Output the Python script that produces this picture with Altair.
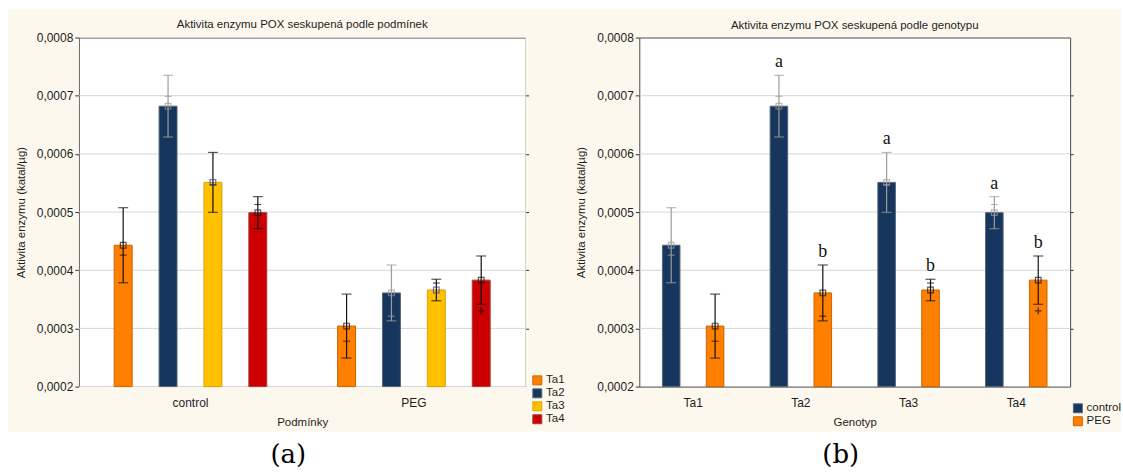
import altair as alt
import pandas as pd

# ---- data -------------------------------------------------------------
genotypes = ["Ta1", "Ta2", "Ta3", "Ta4"]
conditions = ["control", "PEG"]

mean_control = [0.000443, 0.000682, 0.000551, 0.000499]
mean_peg = [0.000304, 0.000361, 0.000366, 0.000383]
se_control = [0.0000645, 0.000053, 0.0000515, 0.0000275]
se_peg = [0.000055, 0.000048, 0.0000185, 0.0000415]
inner_control = [0.000426, 0.000699, 0.000547, 0.000513]
inner_peg = [0.000278, 0.000321, 0.000378, None]
letters_control = ["", "a", "a", "a"]
letters_peg = ["", "b", "b", "b"]
extra_condition = ["PEG"]
extra_genotype = ["Ta4"]
extra_value = [0.000330]

y_ticks = [0.0002, 0.0003, 0.0004, 0.0005, 0.0006, 0.0007, 0.0008]

# ---- styling ----------------------------------------------------------
FONT = "Liberation Sans"
SERIF = "Liberation Serif"
CAPTION_FONT = "DejaVu Serif"
CREAM = "#fdf8ed"
TEXT = "#1e1e1e"
genotype_fill = ["#ff8000", "#17365d", "#ffc000", "#cc0000"]
genotype_edge = ["#c96300", "#56657a", "#d9a400", "#a83a3a"]
condition_fill = ["#17365d", "#ff8000"]
condition_edge = ["#56657a", "#c96300"]

rows = []
for cond, means, ses, inner, letters in [
    ("control", mean_control, se_control, inner_control, letters_control),
    ("PEG", mean_peg, se_peg, inner_peg, letters_peg),
]:
    for g, m, e, i, l in zip(genotypes, means, ses, inner, letters):
        rows.append(dict(condition=cond, genotype=g, mean=m, lo=m - e, hi=m + e,
                         inner=i, letter=l))
df = pd.DataFrame(rows)
extra_df = pd.DataFrame({"condition": extra_condition, "genotype": extra_genotype,
                         "value": extra_value})
grid_df = pd.DataFrame({"tick": y_ticks[1:-1]})

Y_MIN, Y_MAX = y_ticks[0], y_ticks[-1]
PLOT_H = 350
y_scale = alt.Scale(domain=[Y_MIN, Y_MAX], nice=False, zero=False)
y_axis = alt.Axis(
    title="Aktivita enzymu (katal/µg)", values=y_ticks,
    labelExpr="replace(format(datum.value, '.4f'), '.', ',')",
    grid=False, domain=False, tickColor="#333", tickSize=4, zindex=1,
    labelFontSize=12, labelPadding=2, labelColor=TEXT, labelFont=FONT,
    titleFontSize=11.5, titleFontWeight="normal", titleColor=TEXT, titleFont=FONT,
    titlePadding=10,
)
# tick marks only, on the right-hand frame
y_axis_right = alt.Axis(orient="right", values=y_ticks[1:-1], labels=False, title=None,
                        grid=False, domain=False, tickColor="#333", tickSize=3, zindex=1)


def panel(x_field, x_domain, off_field, fills, edges, navy_test, marker_stroke,
          title, title_dy, x_title, width, outer_pad, caption, legend_xy, show_letters,
          backdrop=False):
    off_domain = genotypes if off_field == "genotype" else conditions
    x = alt.X(f"{x_field}:N", scale=alt.Scale(domain=x_domain, paddingInner=0, paddingOuter=0),
              axis=alt.Axis(title=x_title, labelAngle=0, ticks=False, domain=False, zindex=1,
                            labelPadding=11, labelFontSize=12, labelColor=TEXT, labelFont=FONT,
                            titleFontSize=11.5, titleFontWeight="normal", titleColor=TEXT,
                            titleFont=FONT, titlePadding=8))
    xo = alt.XOffset(f"{off_field}:N",
                     scale=alt.Scale(domain=off_domain, paddingInner=0.6, paddingOuter=outer_pad))
    base = alt.Chart(df)
    err_color = alt.condition(navy_test, alt.value("#9c9c9c"), alt.value("#111111"))

    grid = alt.Chart(grid_df).mark_rule(color="#d6d6d6", strokeWidth=1).encode(
        y=alt.Y("tick:Q", scale=y_scale))
    bars = base.mark_bar(strokeWidth=1).encode(
        x=x, xOffset=xo,
        y=alt.Y("mean:Q", scale=y_scale, axis=y_axis),
        y2=alt.datum(Y_MIN),
        fill=alt.Fill(f"{off_field}:N",
                      scale=alt.Scale(domain=off_domain, range=fills),
                      legend=alt.Legend(title=None, orient="none", legendX=legend_xy[0],
                                        legendY=legend_xy[1], symbolType="square",
                                        symbolSize=81, symbolStrokeColor="#555",
                                        symbolStrokeWidth=1, labelFontSize=11.5, labelFont=FONT,
                                        labelColor=TEXT, rowPadding=-1, padding=0,
                                        labelOffset=3, zindex=1)),
        stroke=alt.Stroke(f"{off_field}:N",
                          scale=alt.Scale(domain=off_domain, range=edges),
                          legend=None),
    )
    whisk = base.mark_rule(strokeWidth=1.2).encode(
        x=x, xOffset=xo, y="lo:Q", y2="hi:Q", color=err_color)
    cap_hi = base.mark_tick(size=10, thickness=1.2).encode(
        x=x, xOffset=xo, y="hi:Q", color=err_color)
    cap_lo = base.mark_tick(size=10, thickness=1.2).encode(
        x=x, xOffset=xo, y="lo:Q", color=err_color)
    inner = base.transform_filter("isValid(datum.inner)").mark_tick(size=7, thickness=1.2).encode(
        x=x, xOffset=xo, y="inner:Q", color=err_color)
    markers = base.mark_point(shape="square", size=32, filled=False, strokeWidth=1.2).encode(
        x=x, xOffset=xo, y="mean:Q", stroke=marker_stroke)
    plus = alt.Chart(extra_df).mark_point(
        shape="M-1,0L1,0M0,-1L0,1", size=45, filled=False, strokeWidth=1.3, color="#111"
    ).encode(x=x, xOffset=xo, y="value:Q")
    cap_text = alt.Chart(pd.DataFrame({"caption": [caption]})).mark_text(
        font=CAPTION_FONT, fontSize=26, color="#000", baseline="middle", align="center"
    ).encode(x=alt.value(width / 2 - 14), y=alt.value(419), text="caption:N")

    layers = []
    if backdrop:
        # cream frame around the plotting area (the right panel paints over it)
        strip = alt.Chart(pd.DataFrame({"k": [0]})).mark_rect(color=CREAM)
        layers += [
            strip.encode(x=alt.value(-71), x2=alt.value(1045), y=alt.value(-28), y2=alt.value(0)),
            strip.encode(x=alt.value(-71), x2=alt.value(1045), y=alt.value(PLOT_H), y2=alt.value(395)),
            strip.encode(x=alt.value(-71), x2=alt.value(0), y=alt.value(0), y2=alt.value(PLOT_H)),
            strip.encode(x=alt.value(width), x2=alt.value(1045), y=alt.value(0), y2=alt.value(PLOT_H)),
        ]
    layers += [grid, bars, whisk, cap_hi, cap_lo, inner, markers, plus]
    if show_letters:
        letters = base.transform_filter("datum.letter != ''").mark_text(
            font=SERIF, fontSize=18, color="#111", baseline="middle", dy=-13
        ).encode(x=x, xOffset=xo, y="hi:Q", text="letter:N")
        layers.append(letters)
    layers.append(cap_text)

    main = alt.layer(*layers)
    right_ticks = alt.Chart(grid_df).mark_rule(opacity=0).encode(
        y=alt.Y("tick:Q", scale=y_scale, axis=y_axis_right))

    return alt.layer(main, right_ticks).resolve_axis(y="independent").properties(
        width=width, height=PLOT_H,
        title=alt.TitleParams(title, fontSize=11.5, fontWeight="normal", font=FONT,
                              color=TEXT, anchor="middle", frame="group", offset=7,
                              dy=title_dy),
    )


left = panel(
    "condition", conditions, "genotype", genotype_fill, genotype_edge,
    "datum.genotype === 'Ta2'",
    {"condition": [{"test": "datum.genotype === 'Ta2'", "value": "#9c9c9c"},
                   {"test": "datum.genotype === 'Ta3'", "value": "#3b3ba8"}],
     "value": "#111111"},
    "Aktivita enzymu POX seskupená podle podmínek", 28, "Podmínky", 448, 0.789, "(a)",
    (454, 338), False, backdrop=True,
)
right = panel(
    "genotype", genotypes, "condition", condition_fill, condition_edge,
    "datum.condition === 'control'",
    {"condition": [{"test": "datum.condition === 'control'", "value": "#9c9c9c"}],
     "value": "#111111"},
    "Aktivita enzymu POX seskupená podle genotypu", 7, "Genotyp", 432, 0.527, "(b)",
    (434, 366), True,
)

chart = alt.hconcat(left, right, spacing=114, bounds="flush").resolve_scale(
    fill="independent", stroke="independent", x="independent", xOffset="independent",
).properties(
    padding={"left": 7, "top": 8, "right": 0, "bottom": 0},
).configure_view(fill="white", stroke="#4a4a4a", strokeWidth=1)

chart.save("out.html", embed_options={"renderer": "svg", "actions": False})
